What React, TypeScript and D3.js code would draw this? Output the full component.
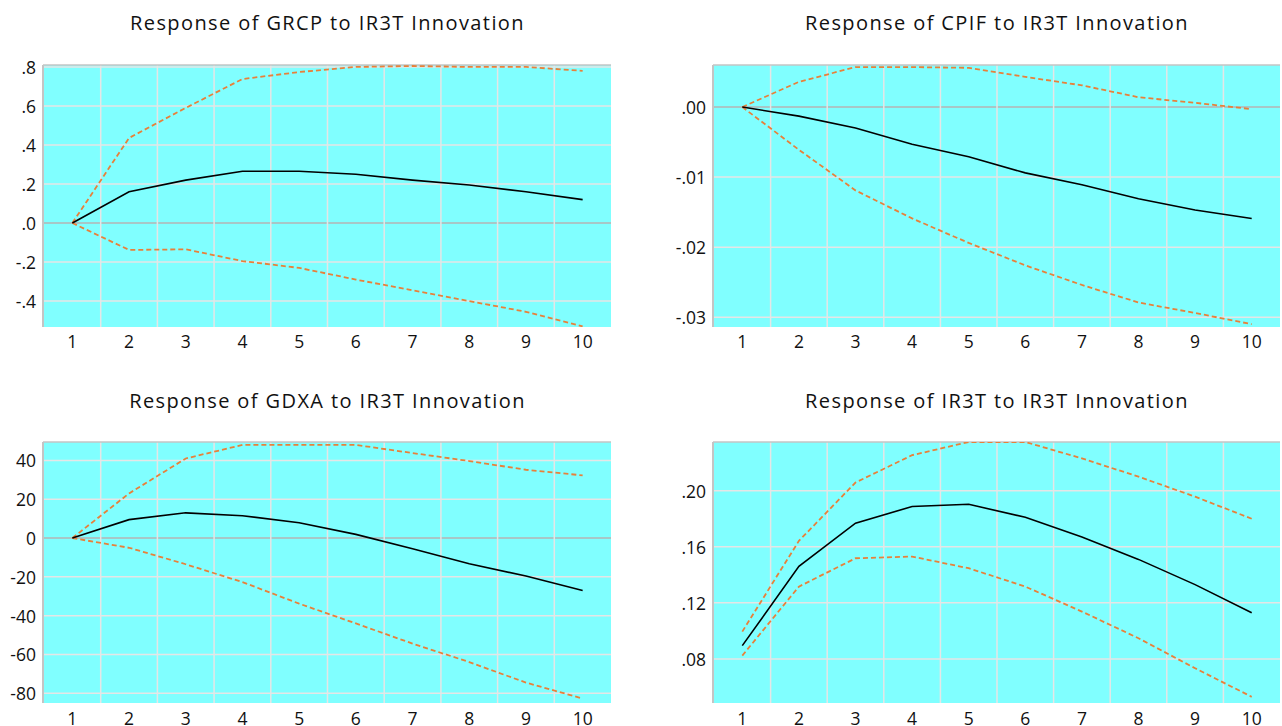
import React from "react";
import * as d3 from "d3";

const periods = [1, 2, 3, 4, 5, 6, 7, 8, 9, 10];

const grcpMean = [0, 0.16, 0.22, 0.265, 0.265, 0.25, 0.22, 0.195, 0.16, 0.12];
const grcpUpper = [0, 0.436, 0.59, 0.738, 0.774, 0.8, 0.805, 0.8, 0.8, 0.78];
const grcpLower = [0, -0.138, -0.135, -0.195, -0.23, -0.29, -0.345, -0.4, -0.455, -0.53];
const grcpTicks = [0.8, 0.6, 0.4, 0.2, 0, -0.2, -0.4];
const grcpTickLabels = [".8", ".6", ".4", ".2", ".0", "-.2", "-.4"];

const cpifMean = [0, -0.0013, -0.003, -0.0053, -0.0071, -0.0094, -0.0111, -0.0131, -0.0147, -0.0159];
const cpifUpper = [0, 0.0036, 0.0057, 0.0057, 0.0056, 0.0043, 0.0031, 0.0014, 0.0006, -0.0003];
const cpifLower = [0, -0.0061, -0.0119, -0.0159, -0.0194, -0.0226, -0.0254, -0.0279, -0.0294, -0.031];
const cpifTicks = [0, -0.01, -0.02, -0.03];
const cpifTickLabels = [".00", "-.01", "-.02", "-.03"];

const gdxaMean = [0, 9.5, 13, 11.5, 7.9, 1.9, -5.5, -13.2, -19.6, -27];
const gdxaUpper = [0, 23, 41, 48, 48, 48, 43.8, 39.7, 35.2, 32.3];
const gdxaLower = [0, -5, -13.5, -22.7, -33.8, -44, -54.4, -63.9, -74.5, -82.7];
const gdxaTicks = [40, 20, 0, -20, -40, -60, -80];
const gdxaTickLabels = ["40", "20", "0", "-20", "-40", "-60", "-80"];

const ir3tMean = [0.0895, 0.146, 0.1768, 0.1887, 0.1903, 0.181, 0.167, 0.151, 0.133, 0.113];
const ir3tUpper = [0.0995, 0.1642, 0.2058, 0.2253, 0.2347, 0.2347, 0.223, 0.21, 0.1957, 0.18];
const ir3tLower = [0.0824, 0.1316, 0.1518, 0.153, 0.1447, 0.1316, 0.1138, 0.0948, 0.0734, 0.053];
const ir3tTicks = [0.2, 0.16, 0.12, 0.08];
const ir3tTickLabels = [".20", ".16", ".12", ".08"];

const titles = [
  "Response of GRCP to IR3T Innovation",
  "Response of CPIF to IR3T Innovation",
  "Response of GDXA to IR3T Innovation",
  "Response of IR3T to IR3T Innovation",
];

const FONT = "'Open Sans', 'DejaVu Sans', sans-serif";

interface PanelProps {
  id: string;
  title: string;
  x0: number;
  x1: number;
  y0: number;
  y1: number;
  domain: [number, number];
  mean: number[];
  upper: number[];
  lower: number[];
  ticks: number[];
  tickLabels: string[];
  titleY: number;
  xLabelY: number;
}

function Panel(p: PanelProps) {
  const band = d3.scaleBand<number>().domain(periods).range([p.x0, p.x1]).padding(0);
  const xs = (v: number) => (band(v) as number) + band.bandwidth() / 2;
  const y = d3.scaleLinear().domain(p.domain).range([p.y1, p.y0]);
  const line = (vals: number[]) =>
    d3
      .line<number>()
      .x((_, i) => xs(periods[i]))
      .y((d) => y(d))(vals) as string;
  const gridV = periods.slice(1).map((v) => band(v) as number);
  const clipId = `clip-${p.id}`;
  return (
    <g>
      <defs>
        <clipPath id={clipId}>
          <rect x={p.x0} y={p.y0} width={p.x1 - p.x0} height={p.y1 - p.y0} />
        </clipPath>
      </defs>
      <text
        x={(p.x0 + p.x1) / 2}
        y={p.titleY}
        textAnchor="middle"
        fontFamily={FONT}
        fontSize={20}
        letterSpacing={1.4}
        fill="#111"
      >
        {p.title}
      </text>
      <rect x={p.x0} y={p.y0} width={p.x1 - p.x0} height={p.y1 - p.y0} fill="#80ffff" />
      {p.ticks.map((t) => (
        <line
          key={`h${t}`}
          x1={p.x0}
          x2={p.x1}
          y1={y(t)}
          y2={y(t)}
          stroke={t === 0 ? "#b4b4b4" : "#e6e6e6"}
          strokeWidth={t === 0 ? 1.6 : 1.5}
        />
      ))}
      {gridV.map((gx) => (
        <line key={`v${gx}`} x1={gx} x2={gx} y1={p.y0} y2={p.y1} stroke="#e6e6e6" strokeWidth={1.5} />
      ))}
      <line x1={p.x0 - 1} x2={p.x1} y1={p.y0} y2={p.y0} stroke="#c4c4c4" strokeWidth={1.6} />
      <line x1={p.x0 - 1} x2={p.x0 - 1} y1={p.y0} y2={p.y1} stroke="#c4c4c4" strokeWidth={2} />
      <g clipPath={`url(#${clipId})`}>
        <path d={line(p.upper)} fill="none" stroke="#e8803a" strokeWidth={1.8} strokeDasharray="5,3" />
        <path d={line(p.lower)} fill="none" stroke="#e8803a" strokeWidth={1.8} strokeDasharray="5,3" />
        <path d={line(p.mean)} fill="none" stroke="#000" strokeWidth={1.6} />
      </g>
      {p.ticks.map((t, i) => (
        <text
          key={`yl${t}`}
          x={p.x0 - 8}
          y={y(t)}
          textAnchor="end"
          dominantBaseline="central"
          fontFamily={FONT}
          fontSize={17.5}
          fill="#111"
        >
          {p.tickLabels[i]}
        </text>
      ))}
      {periods.map((v) => (
        <text
          key={`xl${v}`}
          x={xs(v)}
          y={p.xLabelY}
          textAnchor="middle"
          fontFamily={FONT}
          fontSize={17.5}
          fill="#111"
        >
          {v}
        </text>
      ))}
    </g>
  );
}

export default function App() {
  return (
    <svg
      width={1282}
      height={726}
      style={{ position: "absolute", left: 0, top: 0, background: "#fff" }}
    >
      <Panel
        id="p1"
        title={titles[0]}
        x0={44}
        x1={611}
        y0={65}
        y1={327}
        domain={[-0.533, 0.81]}
        mean={grcpMean}
        upper={grcpUpper}
        lower={grcpLower}
        ticks={grcpTicks}
        tickLabels={grcpTickLabels}
        titleY={30}
        xLabelY={348}
      />
      <Panel
        id="p2"
        title={titles[1]}
        x0={714}
        x1={1280}
        y0={65}
        y1={327}
        domain={[-0.0314, 0.006]}
        mean={cpifMean}
        upper={cpifUpper}
        lower={cpifLower}
        ticks={cpifTicks}
        tickLabels={cpifTickLabels}
        titleY={30}
        xLabelY={348}
      />
      <Panel
        id="p3"
        title={titles[2]}
        x0={44}
        x1={611}
        y0={442}
        y1={703}
        domain={[-85, 49.5]}
        mean={gdxaMean}
        upper={gdxaUpper}
        lower={gdxaLower}
        ticks={gdxaTicks}
        tickLabels={gdxaTickLabels}
        titleY={408}
        xLabelY={725}
      />
      <Panel
        id="p4"
        title={titles[3]}
        x0={714}
        x1={1280}
        y0={442}
        y1={703}
        domain={[0.0486, 0.2347]}
        mean={ir3tMean}
        upper={ir3tUpper}
        lower={ir3tLower}
        ticks={ir3tTicks}
        tickLabels={ir3tTickLabels}
        titleY={408}
        xLabelY={725}
      />
    </svg>
  );
}
